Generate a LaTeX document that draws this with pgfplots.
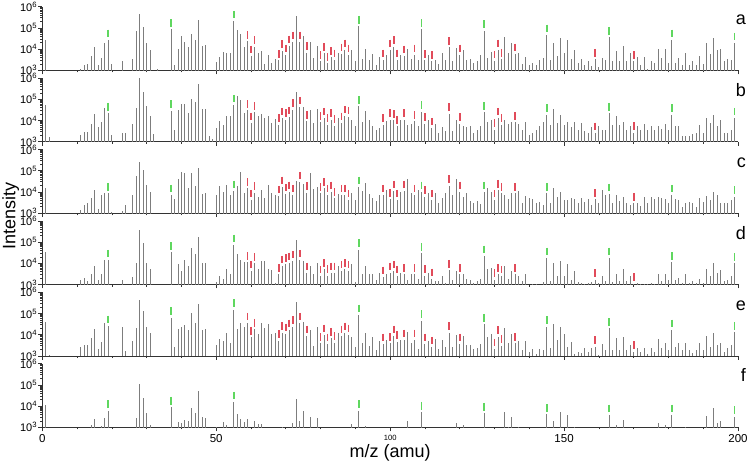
\documentclass[border=0pt]{standalone}
\usepackage{pgfplots}
\pgfplotsset{compat=1.18}
\usepackage{pgfplotstable}
\usepackage{fontspec}
\setmainfont{Liberation Sans}

\definecolor{stickgray}{RGB}{125,125,125}
\definecolor{wgreen}{RGB}{95,215,95}
\definecolor{fred}{RGB}{225,75,90}

% m/z, intensities of panels a-f, flag (1 = water cluster, 2 = red mark)
\pgfplotstableread{
m a b c d e f g
1 2.7e4 5.5e4 1.6e4 3.3e4 4.1e4 1.1e4 0
2 nan 1.6e3 nan nan 1.1e3 nan 0
11 1.2e3 2.1e3 1.4e3 1.7e3 2.5e3 nan 0
12 1.7e3 3.0e3 2.5e3 2.1e3 3.3e3 nan 0
13 2.0e3 3.0e3 2.9e3 1.4e3 3.1e3 nan 0
14 4.7e3 7.0e3 4.9e3 3.0e3 6.8e3 1.3e3 0
15 1.2e4 2.1e4 1.2e4 7.8e3 1.9e4 2.4e3 0
16 1.7e3 4.7e3 1.5e3 1.6e3 2.1e3 nan 0
17 3.7e3 8.1e3 7.0e3 3.3e3 4.6e3 1.15e3 0
18 1.9e4 3.7e4 8.4e3 1.5e4 3.5e4 2.75e3 0
19 2.7e4 2.2e4 8.4e3 1.4e4 2.6e4 6.1e3 1
20 2.0e3 2.1e3 1.15e3 nan nan nan 0
23 2.7e3 2.7e3 1.2e3 1.6e3 2.2e4 nan 0
24 nan 2.7e3 2.3e3 nan 1.7e3 nan 0
26 3.5e3 6.8e3 7.0e3 2.3e3 5.1e3 nan 0
27 7.1e4 3.9e4 5.5e4 9.8e3 2.1e4 2.85e3 0
28 4.3e5 1.0e6 2.7e5 3.9e5 4.3e5 1.05e5 0
29 1.1e5 2.3e5 1.05e5 9.2e4 1.3e5 2.3e4 0
30 2.0e4 5.0e4 2.1e4 1.05e4 2.4e4 4.6e3 0
31 9.1e3 1.7e4 1.0e4 5.5e3 1.26e4 1.25e3 0
32 nan 2.3e3 nan nan nan nan 0
33 1.2e3 nan nan nan nan nan 0
37 8.5e4 2.9e4 7.0e3 3.3e4 6.4e4 8.8e3 1
38 1.8e3 3.4e3 4.4e3 nan 2.75e3 nan 0
39 1.05e4 3.2e4 3.9e4 8.8e3 1.8e4 1.85e3 0
40 4.1e4 6.1e4 8.8e4 4.3e3 2.3e4 1.55e3 0
41 2.2e4 6.1e4 7.9e4 1.4e4 2.9e4 2.2e3 0
42 1.2e4 2.3e4 1.55e4 7.8e3 1.7e4 1.9e3 0
43 5.0e4 1.0e5 7.4e4 5.3e4 1.0e5 7.8e3 0
44 2.7e4 7.4e4 1.9e4 2.6e4 3.7e4 4.9e3 0
45 2.3e5 5.4e5 1.3e5 1.75e5 2.8e5 5.1e4 0
46 1.4e4 3.4e4 7.8e3 9.8e3 1.7e4 3.1e3 0
47 1.5e4 3.4e4 8.4e3 1.05e4 1.9e4 2.75e3 0
48 nan 1.8e3 nan nan nan nan 0
49 nan 1.3e3 nan nan nan nan 0
50 2.5e3 4.4e3 7.0e3 1.3e3 3.3e3 1.05e3 0
51 4.1e3 9.1e3 1.9e4 2.65e3 6.1e3 nan 0
52 7.6e3 6.3e3 1.0e4 1.85e3 5.3e3 1.8e3 0
53 6.8e3 1.6e4 2.2e4 5.1e3 1.2e4 1.3e3 0
54 6.8e3 1.6e4 7.3e3 3.3e3 4.25e3 nan 0
55 2.1e5 5.3e4 1.1e4 7.4e4 1.5e5 1.55e4 1
56 7.9e4 1.5e5 1.9e4 2.7e4 1.8e4 4.25e3 0
57 5.0e4 9.5e4 8.5e4 1.4e4 3.7e4 2.55e3 0
58 1.3e4 2.2e4 9.1e3 1.1e4 2.2e4 1.8e3 0
59 2.3e4 3.0e4 1.45e4 1.1e4 3.5e4 2.55e3 2
60 4.7e3 7.6e3 4.1e3 4.3e3 7.6e3 nan 2
61 1.3e4 2.4e4 9.1e3 9.8e3 1.8e4 1.9e3 2
62 6.8e3 1.7e4 5.9e3 5.1e3 1.05e4 1.45e3 0
63 8.4e3 2.0e4 1.2e4 1.26e4 3.7e4 1.45e3 0
64 1.9e3 1.3e4 4.9e3 1.26e4 2.0e4 nan 0
65 5.1e3 1.7e4 2.1e4 5.1e3 3.2e4 nan 0
66 2.1e3 7.6e3 8.4e3 4.7e3 1.1e4 nan 0
67 3.5e3 1.2e4 7.0e3 1.2e3 1.2e4 nan 0
68 2.9e3 6.3e3 6.3e3 3.0e3 5.3e3 nan 2
69 8.4e3 1.3e4 1.7e4 7.3e3 1.26e4 1.05e3 2
70 5.3e3 1.1e4 7.8e3 8.8e3 1.1e4 nan 2
71 1.4e4 1.45e4 1.0e4 1.05e4 1.7e4 nan 2
72 2.2e4 3.2e4 7.0e3 1.26e4 2.4e4 1.55e3 2
73 3.7e5 2.1e5 3.1e4 1.3e5 3.4e5 2.2e4 0
74 2.2e4 4.3e4 2.9e4 1.4e4 3.5e4 2.05e3 2
75 4.1e4 4.3e4 2.3e4 1.26e4 4.1e4 6.1e3 0
76 6.8e3 9.1e3 9.1e3 3.55e3 8.8e3 nan 2
77 2.2e4 3.2e4 7.4e4 7.3e3 1.7e4 3.2e3 0
78 3.7e3 7.6e3 1.3e4 3.0e3 3.0e3 nan 0
79 1.4e4 3.4e4 1.7e4 1.05e4 2.2e4 2.75e3 0
80 2.6e3 8.1e3 8.4e3 2.5e3 3.9e3 nan 2
81 6.3e3 1.3e4 1.45e4 5.1e3 9.8e3 nan 2
82 2.1e3 6.3e3 7.0e3 2.65e3 3.7e3 nan 2
83 4.1e3 1.1e4 1.0e4 3.55e3 6.8e3 nan 2
84 3.1e3 5.7e3 4.9e3 3.55e3 4.25e3 nan 2
85 6.3e3 1.3e4 7.8e3 7.3e3 1.2e4 nan 0
86 5.9e3 7.6e3 7.0e3 4.3e3 8.8e3 nan 2
87 9.1e3 1.6e4 7.0e3 5.1e3 1.2e4 nan 2
88 5.3e3 1.45e4 4.1e3 4.3e3 9.8e3 nan 2
89 9.1e3 1.0e4 8.4e3 8.8e3 7.6e3 1.45e3 0
90 2.6e3 5.7e3 4.1e3 1.3e3 2.75e3 nan 0
91 1.2e5 4.6e4 1.7e4 4.45e4 8.5e4 6.1e3 1
92 3.3e3 8.1e3 1.1e4 3.0e3 3.9e3 nan 0
93 9.8e3 2.9e4 2.5e4 7.3e3 1.2e4 1.15e3 0
94 3.1e3 1.0e4 7.6e3 3.0e3 3.0e3 nan 0
95 5.7e3 5.7e3 4.9e3 3.0e3 8.1e3 nan 0
96 1.7e3 3.4e3 3.8e3 1.7e3 1.9e3 nan 0
97 4.1e3 4.4e3 7.0e3 3.55e3 5.1e3 nan 0
98 3.1e3 6.3e3 7.0e3 2.3e3 3.7e3 nan 2
99 5.3e3 9.1e3 1.2e4 3.3e3 5.7e3 nan 0
100 9.1e3 1.1e4 4.4e3 3.55e3 3.9e3 nan 2
101 1.3e4 1.0e4 1.1e4 4.3e3 8.8e3 nan 2
102 3.1e3 5.3e3 4.1e3 2.5e3 4.7e3 nan 2
103 5.3e3 1.0e4 1.0e4 3.55e3 5.7e3 nan 0
104 4.7e3 1.1e4 1.1e4 3.0e3 5.7e3 nan 2
105 1.0e4 6.3e3 3.9e4 1.7e3 1.4e4 1.9e3 0
106 3.3e3 7.0e3 8.4e3 3.0e3 4.25e3 nan 0
107 5.3e3 9.1e3 7.0e3 3.0e3 5.7e3 nan 2
108 2.9e3 5.3e3 1.2e4 1.85e3 2.1e3 nan 0
109 8.5e4 2.6e4 1.0e4 2.9e4 4.6e4 5.1e3 1
110 2.9e3 7.0e3 5.9e3 2.65e3 3.7e3 nan 2
111 5.3e3 1.0e4 9.1e3 3.55e3 5.3e3 nan 0
112 2.6e3 4.4e3 4.1e3 1.85e3 2.6e3 nan 2
113 3.1e3 7.0e3 9.1e3 1.45e3 6.5e3 nan 0
114 2.0e3 2.6e3 2.9e3 1.45e3 2.1e3 nan 0
115 6.8e3 4.9e3 4.9e3 2.5e3 5.7e3 nan 0
116 2.9e3 3.1e3 8.4e3 1.2e3 2.6e3 nan 0
117 1.2e4 2.1e4 2.0e4 4.7e3 1.26e4 nan 2
118 2.7e3 3.1e3 7.0e3 1.7e3 2.75e3 nan 0
119 1.1e4 1.0e4 3.9e4 4.3e3 9.8e3 1.55e3 0
120 5.3e3 7.0e3 1.0e4 3.0e3 3.7e3 nan 2
121 9.1e3 5.3e3 5.9e3 3.0e3 8.8e3 1.3e3 0
122 2.9e3 4.9e3 8.4e3 1.85e3 3.3e3 nan 0
123 3.5e3 5.3e3 3.8e3 1.7e3 3.3e3 nan 0
124 2.1e3 2.6e3 3.1e3 1.2e3 2.1e3 nan 0
125 2.6e3 3.4e3 3.8e3 1.45e3 2.3e3 nan 0
126 5.3e3 5.7e3 2.6e3 1.85e3 3.55e3 nan 0
127 7.4e4 2.4e4 9.8e3 2.2e4 3.1e4 4.6e3 1
128 3.7e3 8.8e3 1.45e4 5.1e3 7.6e3 nan 0
129 7.6e3 1.0e4 1.0e4 6.1e3 1.1e4 nan 0
130 2.7e3 3.7e3 4.1e3 1.7e3 2.1e3 nan 2
131 9.1e3 1.3e4 1.2e4 3.0e3 8.1e3 nan 2
132 3.3e3 6.3e3 8.4e3 2.5e3 3.0e3 nan 2
133 3.6e4 1.1e4 7.0e3 7.3e3 2.0e4 5.5e3 0
134 6.8e3 7.0e3 4.7e3 1.85e3 4.25e3 1.05e3 0
135 2.0e4 8.1e3 8.4e3 4.3e3 1.05e4 3.2e3 0
136 5.9e3 8.1e3 8.4e3 3.0e3 3.9e3 nan 2
137 6.8e3 7.0e3 1.1e4 2.65e3 5.1e3 1.05e3 0
138 2.0e3 3.7e3 3.1e3 1.45e3 1.8e3 nan 0
139 4.1e3 8.8e3 6.3e3 3.0e3 5.1e3 nan 0
140 1.8e3 2.1e3 4.9e3 nan 1.6e3 nan 0
141 2.3e3 2.6e3 4.4e3 1.1e3 2.1e3 nan 0
142 1.7e3 3.4e3 2.9e3 1.05e3 1.25e3 nan 0
143 3.1e3 5.7e3 3.4e3 nan 2.1e3 nan 0
144 3.7e3 8.8e3 2.4e3 1.3e3 1.9e3 nan 0
145 4.6e4 1.9e4 8.4e3 1.8e4 2.4e4 4.1e3 1
146 3.1e3 6.3e3 3.1e3 1.45e3 2.3e3 nan 0
147 1.9e4 3.4e4 1.45e4 9.8e3 3.1e4 2.05e3 0
148 4.7e3 7.6e3 5.9e3 2.5e3 5.7e3 nan 0
149 3.2e4 1.9e4 1.0e4 1.26e4 2.4e4 5.5e3 0
150 6.3e3 6.3e3 4.1e3 2.5e3 1.1e4 nan 0
151 2.7e4 8.1e3 4.1e3 8.8e3 2.75e3 3.8e3 0
152 3.3e3 4.9e3 4.9e3 1.7e3 4.7e3 nan 0
153 9.1e3 8.1e3 4.4e3 4.3e3 1.25e3 1.05e3 0
154 2.1e3 3.7e3 2.9e3 1.3e3 1.6e3 nan 0
155 3.3e3 7.6e3 4.9e3 1.2e3 1.3e3 nan 0
156 1.7e3 3.1e3 3.4e3 1.1e3 2.3e3 nan 0
157 2.6e3 2.6e3 4.4e3 1.2e3 1.45e3 nan 0
158 1.6e3 4.9e3 2.4e3 1.3e3 2.3e3 nan 0
159 3.3e3 2.6e3 4.4e3 1.7e3 2.75e3 nan 2
160 1.4e3 5.3e3 2.9e3 1.2e3 1.1e3 nan 0
161 3.7e3 3.7e3 1.2e4 2.5e3 3.7e3 nan 0
162 2.9e3 3.4e3 7.0e3 1.45e3 1.9e3 nan 0
163 3.6e4 2.2e4 7.8e3 1.8e4 2.0e4 3.8e3 1
164 2.6e3 6.3e3 2.9e3 1.3e3 1.9e3 nan 0
165 8.4e3 1.6e4 7.0e3 3.3e3 6.8e3 1.3e3 0
166 2.6e3 6.3e3 3.8e3 1.45e3 1.8e3 nan 0
167 1.4e4 8.1e3 5.5e3 5.1e3 7.6e3 2.2e3 0
168 2.7e3 3.4e3 2.9e3 1.45e3 1.8e3 nan 0
169 6.3e3 5.7e3 2.4e3 2.5e3 3.2e3 nan 0
170 2.6e3 2.7e3 2.9e3 1.1e3 1.6e3 nan 2
171 4.1e3 5.3e3 3.1e3 1.2e3 2.3e3 nan 0
172 1.7e3 3.4e3 2.1e3 1.05e3 1.45e3 nan 0
173 4.1e3 7.0e3 5.5e3 1.1e3 2.3e3 nan 0
174 1.2e3 3.4e3 3.1e3 1.1e3 1.25e3 nan 0
175 2.7e3 5.7e3 5.5e3 1.2e3 2.3e3 nan 0
176 2.1e3 3.4e3 4.4e3 1.1e3 1.45e3 nan 0
177 9.8e3 5.7e3 5.5e3 3.3e3 6.1e3 1.65e3 0
178 3.7e3 4.0e3 4.9e3 1.45e3 2.3e3 nan 0
179 9.8e3 7.0e3 4.4e3 3.0e3 4.25e3 1.3e3 0
180 2.1e3 3.7e3 2.9e3 1.7e3 1.9e3 nan 0
181 2.7e4 1.9e4 7.0e3 1.1e4 1.7e4 3.8e3 1
182 2.1e3 5.7e3 4.4e3 1.7e3 2.75e3 nan 0
183 3.7e3 5.3e3 4.1e3 2.1e3 4.25e3 nan 0
184 1.7e3 1.8e3 2.0e3 1.2e3 1.8e3 nan 0
185 6.3e3 1.9e3 3.1e3 3.0e3 3.9e3 1.05e3 0
186 1.8e3 1.8e3 3.4e3 1.2e3 1.9e3 nan 0
187 2.6e3 2.4e3 2.9e3 1.45e3 1.3e3 nan 0
188 1.7e3 2.7e3 2.0e3 1.2e3 1.8e3 nan 0
189 4.7e3 6.3e3 4.9e3 1.85e3 3.9e3 nan 0
190 1.9e3 2.6e3 3.4e3 1.2e3 1.9e3 nan 0
191 1.9e4 1.3e4 6.3e3 5.1e3 8.8e3 3.4e3 0
192 5.9e3 7.6e3 4.1e3 2.5e3 2.75e3 nan 0
193 3.2e4 1.8e4 1.0e4 9.8e3 1.2e4 7.8e3 0
194 9.1e3 5.3e3 7.0e3 3.55e3 3.3e3 1.65e3 0
195 9.8e3 1.1e4 2.9e3 4.7e3 3.9e3 2.0e3 0
196 2.6e3 2.6e3 3.1e3 1.45e3 1.6e3 nan 0
197 3.3e3 2.7e3 2.9e3 1.7e3 2.3e3 nan 0
198 2.9e3 3.7e3 4.1e3 2.5e3 3.3e3 nan 0
199 1.9e4 1.3e4 5.9e3 9.8e3 1.3e4 3.2e3 1
}\spectra

\pgfplotsset{
  specpanel/.style={
    scale only axis, width=695.7pt, height=63.6pt,
    anchor=south west,
    xmin=0, xmax=200, ymin=1e3, ymax=1e6,
    axis x line*=bottom, axis y line*=left,
    axis line style={-, black!80, line width=0.7pt},
    tick align=outside, tick style={black!80, line width=0.6pt},
    major tick length=4pt, minor tick length=2.2pt,
    xtick={0,50,...,200}, minor x tick num=4, xticklabels={},
    ytick={1e3,1e4,1e5,1e6}, minor y tick num=0,
    yticklabels={10\textsuperscript{3},10\textsuperscript{4},10\textsuperscript{5},10\textsuperscript{6}},
    yticklabel style={font=\fontsize{11}{11}\selectfont, inner sep=1pt},
    clip mode=individual,
  },
  sticks/.style={ycomb, draw=stickgray, line width=0.9pt, mark=none},
  flag/.style={only marks, color=#1, mark=|, mark size=3.8pt,
    mark options={line width=1.8pt, yshift=6.5pt}},
}

\begin{document}
\begin{tikzpicture}
\begin{semilogyaxis}[specpanel, at={(0pt,357pt)}]
\addplot[sticks] table[x=m,y=a]{\spectra};
\addplot[flag=wgreen, restrict expr to domain={\thisrow{g}}{1:1}] table[x=m,y=a]{\spectra};
\addplot[flag=fred, restrict expr to domain={\thisrow{g}}{2:2}] table[x=m,y=a]{\spectra};
\end{semilogyaxis}
\begin{semilogyaxis}[specpanel, at={(0pt,285.6pt)}]
\addplot[sticks] table[x=m,y=b]{\spectra};
\addplot[flag=wgreen, restrict expr to domain={\thisrow{g}}{1:1}] table[x=m,y=b]{\spectra};
\addplot[flag=fred, restrict expr to domain={\thisrow{g}}{2:2}] table[x=m,y=b]{\spectra};
\end{semilogyaxis}
\begin{semilogyaxis}[specpanel, at={(0pt,214.2pt)}]
\addplot[sticks] table[x=m,y=c]{\spectra};
\addplot[flag=wgreen, restrict expr to domain={\thisrow{g}}{1:1}] table[x=m,y=c]{\spectra};
\addplot[flag=fred, restrict expr to domain={\thisrow{g}}{2:2}] table[x=m,y=c]{\spectra};
\end{semilogyaxis}
\begin{semilogyaxis}[specpanel, at={(0pt,142.8pt)}]
\addplot[sticks] table[x=m,y=d]{\spectra};
\addplot[flag=wgreen, restrict expr to domain={\thisrow{g}}{1:1}] table[x=m,y=d]{\spectra};
\addplot[flag=fred, restrict expr to domain={\thisrow{g}}{2:2}] table[x=m,y=d]{\spectra};
\end{semilogyaxis}
\begin{semilogyaxis}[specpanel, at={(0pt,71.4pt)}]
\addplot[sticks] table[x=m,y=e]{\spectra};
\addplot[flag=wgreen, restrict expr to domain={\thisrow{g}}{1:1}] table[x=m,y=e]{\spectra};
\addplot[flag=fred, restrict expr to domain={\thisrow{g}}{2:2}] table[x=m,y=e]{\spectra};
\end{semilogyaxis}
\begin{semilogyaxis}[specpanel, at={(0pt,0pt)},
  xticklabels={0,50,{\fontsize{7.6}{8}\selectfont 100},150,200},
  xticklabel style={font=\fontsize{11.5}{11.5}\selectfont}]
\addplot[sticks] table[x=m,y=f]{\spectra};
\addplot[flag=wgreen, restrict expr to domain={\thisrow{g}}{1:1}] table[x=m,y=f]{\spectra};
\end{semilogyaxis}

\begin{scope}[font=\fontsize{18}{18}\selectfont]
\foreach \lab/\yy in {a/402.3,b/330.9,c/259.5,d/188.1,e/116.7,f/45.3}
  \node[anchor=base east, inner sep=0pt] at (703.7pt,\yy pt) {\lab};
\node[anchor=base, inner sep=0pt] at (347.9pt,-30.7pt) {m/z (amu)};
\node[rotate=90, anchor=base, inner sep=0pt] at (-26.8pt,211.3pt) {Intensity};
\end{scope}

\pgfresetboundingbox
\useasboundingbox (-42.3pt,-37.7pt) rectangle (705.7pt,427.3pt);
\end{tikzpicture}
\end{document}
